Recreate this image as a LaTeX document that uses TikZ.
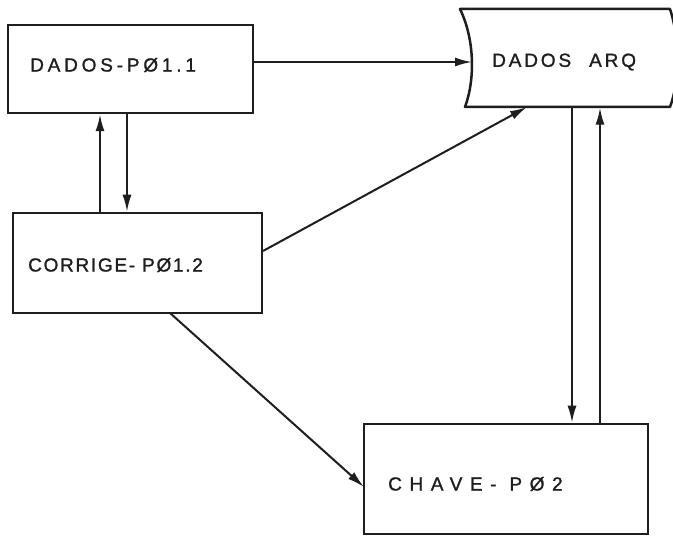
\documentclass[tikz,border=0pt]{standalone}
\usepackage{fontspec}
\setmainfont{Liberation Sans}[FakeBold=1.2]
\usetikzlibrary{arrows.meta,calc}
\definecolor{ink}{HTML}{1E1E1E}
\tikzset{
  box/.style={draw=ink, line width=2.5pt, rectangle, minimum width=#1, inner sep=0pt},
  conn/.style={draw=ink, line width=2pt, -{Latex[length=17pt,width=9pt]}},
  lbl/.style={anchor=west, inner sep=0pt, text=ink, font=\fontsize{19}{21}\selectfont}
}
\begin{document}
\begin{tikzpicture}[x=1pt,y=-1pt]
\useasboundingbox[fill=white] (0,0) rectangle (673,537);
% boxes
\node[box=245pt, minimum height=88pt] (dp) at (130.5,69) {};
\node[box=249pt, minimum height=100pt] (cor) at (137.5,263) {};
\node[box=284pt, minimum height=110pt] (chv) at (506,479) {};
\node[rectangle, inner sep=0pt, minimum width=206pt, minimum height=99pt] (arq) at (565,58) {};
\draw[ink, line width=2.5pt, line join=round] (460,9) -- (670,9) .. controls (680,40) and (680,80) .. (670,107)
  -- (465,107) .. controls (475,80) and (475,40) .. (460,9) -- cycle;
% labels
\node[lbl] (tdp) at (30,65) {\addfontfeature{LetterSpace=20}DADOS-PØ1.1};
\node[lbl] (tcor) at (28,265) {\addfontfeature{LetterSpace=9}CORRIGE- PØ1.2};
\node[lbl] (tarq) at (492,62) {\addfontfeature{LetterSpace=15}DADOS\hspace{18pt}ARQ};
\node[lbl] (tchv) at (388,484) {\addfontfeature{LetterSpace=40}CHAVE- PØ2};
% helper coordinates
\coordinate (xa) at (100,0);
\coordinate (xb) at (127,0);
\coordinate (xc) at (572,0);
\coordinate (xd) at (600,0);
\coordinate (ya) at (0,62);
\coordinate (arqL) at (472,62);
\coordinate (arqB) at (527,107);
\coordinate (corR) at (263,251);
\coordinate (corB) at (170,313);
\coordinate (chvL) at (364,487);
% connectors
\draw[conn] (dp.east |- ya) -- (arqL);
\draw[conn] (cor.north -| xa) -- (dp.south -| xa);
\draw[conn] (dp.south -| xb) -- (cor.north -| xb);
\draw[conn] (corR) -- (arqB);
\draw[conn] (corB) -- (chvL);
\draw[conn] (arq.south -| xc) -- (chv.north -| xc);
\draw[conn] (chv.north -| xd) -- (arq.south -| xd);
\end{tikzpicture}
\end{document}
